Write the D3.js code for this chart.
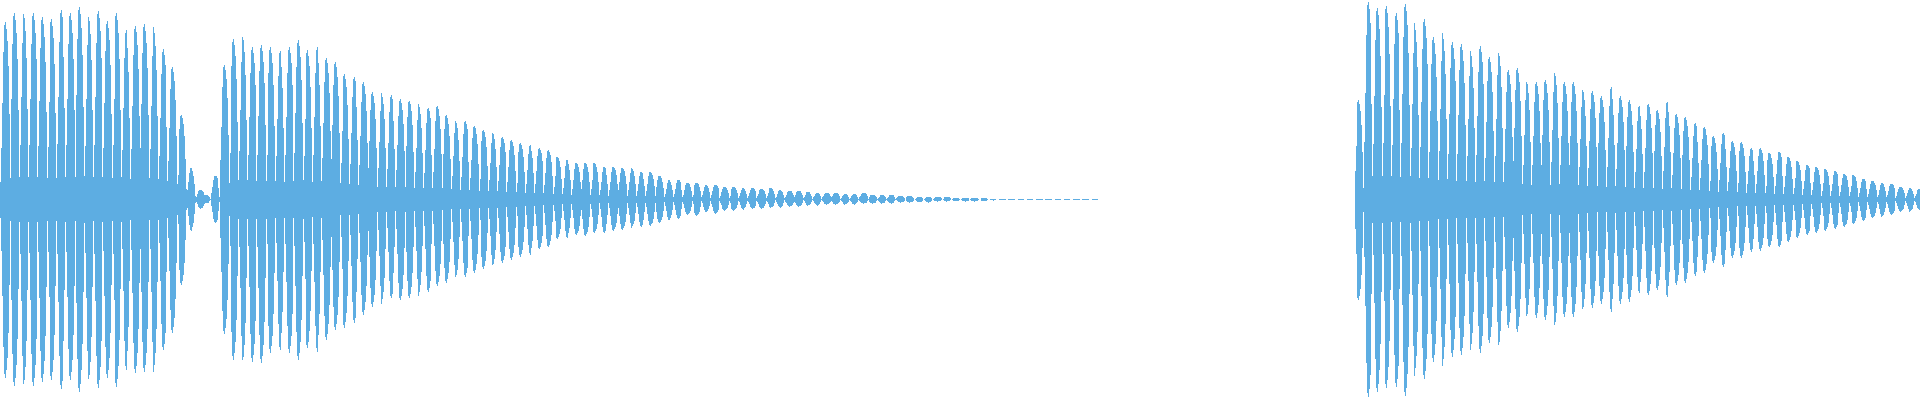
<!DOCTYPE html>
<html>
<head>
<meta charset="utf-8">
<script src="https://cdn.jsdelivr.net/npm/d3@7"></script>
<style>
  html, body { margin: 0; padding: 0; background: #ffffff; overflow: hidden; }
  svg { display: block; }
</style>
</head>
<body>
<div id="chart"></div>
<script>
// ---------------- DATA ----------------
// Relative shape of one cycle (rise -> peak -> decay -> floor), peak at index 4
const cycleShape = [0.29, 0.54, 0.83, 0.98, 1.0, 0.96, 0.89, 0.75, 0.48, 0.12];
const cyclePeakIndex = 4;

// Segment timing (ms): time of first cycle peak and cycle length
const segmentStart  = [-4.28, 205.5, 1358.4];
const segmentPeriod = [9.28, 9.26, 9.34];

// Segment 1a: attack until the dip
const seg1aTop    = [150, 178, 187, 189, 187, 183, 181, 190, 187, 193, 186, 189, 179, 187, 170, 174, 176, 173, 151, 133, 85, 32, 10];
const seg1aBottom = [150, 178, 186, 188, 186, 182, 180, 189, 180, 192, 183, 188, 178, 187, 170, 173, 172, 172, 150, 133, 85, 31, 9];

// Segment 1b: after the dip, long decay
const seg1bTop = [
  5, 24, 135, 161, 166, 153, 155, 153, 149, 153, 160, 150, 153, 142, 138, 126, 123, 118, 108, 107, 105, 101,
  99, 96, 92, 94, 85, 80, 79, 74, 70, 68, 63, 60, 57, 55, 52, 50, 43, 40, 37, 37, 37, 33, 33, 32, 32, 28, 28, 24, 20, 20, 17, 17,
  15, 15, 13, 13, 12, 12, 11, 12, 10, 9, 9, 8, 7, 7, 7, 6, 6, 7, 5, 5, 5, 4, 4, 3, 3, 3, 3, 2, 2, 2, 1.5, 1,
  0.5, 0.5, 0.5, 0.5, 0.5, 0.5, 0.5, 0.5, 0.5, 0.5, 0.5
];
const seg1bBottom = [
  4, 23, 134, 160, 164, 162, 163, 153, 150, 153, 160, 148, 152, 140, 130, 128, 123, 115, 107, 104, 98, 100,
  98, 96, 92, 86, 83, 79, 77, 73, 69, 67, 63, 60, 57, 55, 49, 47, 39, 38, 35, 36, 33, 33, 31, 30, 28, 27, 26, 23, 21, 19, 15, 16,
  13, 14, 11, 11, 10, 9, 9, 8, 8, 7, 7, 6, 6, 5, 5, 5, 5, 4, 4, 4, 4, 3, 3, 3, 3, 2, 2, 2, 2, 2, 1.5, 1,
  0.5, 0.5, 0.5, 0.5, 0.5, 0.5, 0.5, 0.5, 0.5, 0.5, 0.5
];

// Segment 2: second note
const seg2Top = [
  100, 198, 192, 194, 187, 196, 177, 181, 163, 167, 158, 156, 149, 154, 143, 150, 130, 132, 120, 118, 120, 129,
  118, 118, 112, 109, 104, 113, 104, 100, 94, 96, 90, 98, 86, 83, 77, 73, 64, 67, 59, 58, 52, 52, 47, 48, 43,
  39, 35, 33, 31, 29, 26, 25, 21, 19, 17, 16, 13, 12, 11
];
const seg2Bottom = [
  100, 197, 192, 188, 187, 196, 176, 179, 162, 166, 157, 155, 150, 153, 143, 148, 128, 132, 119, 118, 120, 128,
  117, 117, 112, 108, 104, 112, 104, 102, 93, 95, 90, 97, 85, 83, 76, 73, 63, 67, 58, 58, 52, 51, 47, 47, 42,
  38, 35, 33, 31, 29, 27, 24, 21, 18, 17, 15, 12, 12, 10
];

const timeDomain = [0, 1920];
const ampDomain = [-200, 200];

// ---------------- CHART ----------------
const W = 1920, H = 400;
const svg = d3.select("#chart").append("svg")
  .attr("width", W).attr("height", H)
  .attr("viewBox", `0 0 ${W} ${H}`);

const x = d3.scaleLinear().domain(timeDomain).range([0, W]);
const y = d3.scaleLinear().domain(ampDomain).range([H - 0.5, -0.5]);

const segments = [
  { top: seg1aTop, bottom: seg1aBottom },
  { top: seg1bTop, bottom: seg1bBottom },
  { top: seg2Top,  bottom: seg2Bottom }
];

function clampHalf(h, p) {
  if (h >= 0.5) return h;
  return p >= 0.5 ? 0.5 : 0;
}

function buildPoints(seg, si) {
  const start = segmentStart[si], period = segmentPeriod[si];
  const n = cycleShape.length;
  const step = period / n;
  const pts = [];
  seg.top.forEach((tp, i) => {
    const bt = seg.bottom[i];
    const c = start + i * period;
    cycleShape.forEach((p, k) => {
      const hi = clampHalf(tp * p, p);
      const lo = clampHalf(bt * p, p);
      pts.push({ t: c + (k - cyclePeakIndex) * step, hi: hi, lo: -lo });
    });
  });
  const last = pts[pts.length - 1];
  pts.push({ t: last.t + step, hi: last.hi, lo: last.lo });
  return pts;
}

const area = d3.area()
  .curve(d3.curveStepAfter)
  .x(d => x(d.t))
  .y0(d => y(d.lo))
  .y1(d => y(d.hi));

svg.append("g")
  .selectAll("path")
  .data(segments.map(buildPoints))
  .join("path")
  .attr("d", area)
  .attr("fill", "#5dade2")
  .attr("stroke", "none")
  .attr("shape-rendering", "crispEdges");
</script>
</body>
</html>
